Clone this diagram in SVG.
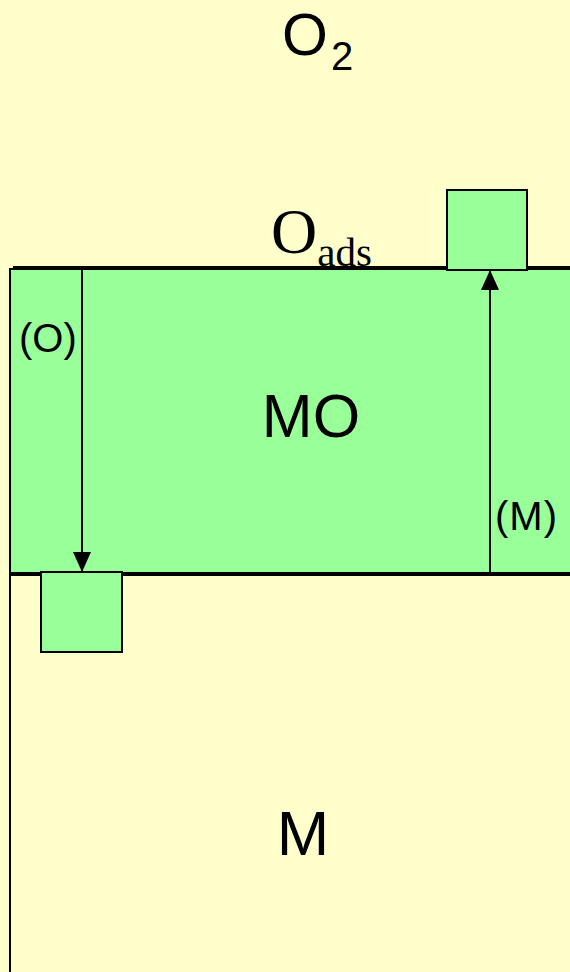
<svg xmlns="http://www.w3.org/2000/svg" width="570" height="972" viewBox="0 0 570 972">
<defs>
<style>
.s{font-family:"Liberation Sans",Arial,sans-serif;fill:#000}
.r{font-family:"Liberation Serif","Times New Roman",serif;fill:#000}
.g{fill:#99FF99;stroke:#000;stroke-width:2}
.ln{stroke:#000;stroke-width:2;fill:none}
</style>
<marker id="a" markerWidth="20" markerHeight="20" refX="20" refY="10" orient="auto" markerUnits="userSpaceOnUse" viewBox="0 0 20 20"><path d="M0,1 L20,10 L0,19 z" fill="#000"/></marker>
</defs>
<rect width="570" height="972" fill="#FFFFCC"/>
<g id="M-region">
<line class="ln" x1="10" y1="572" x2="10" y2="972"/>
<text class="s" x="303" y="855" font-size="63" text-anchor="middle">M</text>
</g>
<g id="MO">
<rect class="g" x="10" y="269" width="570" height="304"/>
<line class="ln" x1="13" y1="267" x2="570" y2="267"/>
<line class="ln" x1="10" y1="575" x2="570" y2="575"/>
<text class="s" x="311" y="437" font-size="61" text-anchor="middle">MO</text>
</g>
<g id="O2">
<text class="s" x="282" y="55" font-size="59">O<tspan font-size="40" dx="3" dy="15">2</tspan></text>
</g>
<g id="Oads">
<text class="r" x="271" y="253" font-size="64">O<tspan font-size="41" dx="0" dy="13">ads</tspan></text>
</g>
<g id="box-top">
<rect class="g" x="447" y="190" width="80" height="80"/>
</g>
<g id="box-bottom">
<rect class="g" x="41" y="572" width="81" height="80"/>
</g>
<g id="connectors">
<line class="ln" x1="82" y1="270" x2="82" y2="572" marker-end="url(#a)"/>
<line class="ln" x1="490" y1="573" x2="490" y2="270" marker-end="url(#a)"/>
</g>
<g id="labels">
<text class="s" x="19" y="352" font-size="40">(O)</text>
<text class="s" x="495" y="530" font-size="40" letter-spacing="1">(M)</text>
</g>
</svg>
